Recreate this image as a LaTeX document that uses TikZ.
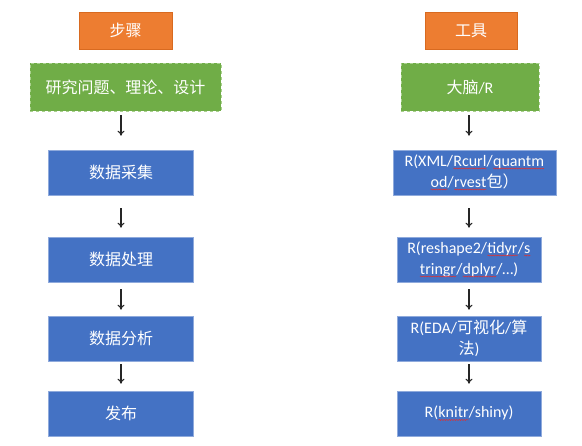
\documentclass[tikz,border=0pt]{standalone}
\usepackage{fontspec}
\setmainfont{Carlito}
\newfontfamily\cjk{Noto Sans CJK SC}
\usetikzlibrary{arrows.meta,decorations.pathmorphing}
\definecolor{ob}{HTML}{ED7D31}
\definecolor{obd}{HTML}{D86A20}
\definecolor{gb}{HTML}{70AD47}
\definecolor{gbd}{HTML}{A9D18E}
\definecolor{bb}{HTML}{4472C4}
\definecolor{bbd}{HTML}{8FAADC}
\definecolor{sq}{HTML}{E03030}
\newcommand\spl[1]{\tikz[baseline=(w.base)]{\node[inner sep=0pt,outer sep=0pt,minimum width=0pt,minimum height=0pt,draw=none,fill=none,text=white](w){#1};\draw[sq,fill=none,line width=0.5pt,decorate,decoration={snake,amplitude=0.5pt,segment length=2.5pt}]([yshift=-2pt]w.base west)--([yshift=-2pt]w.base east);}}
\tikzset{
  box/.style={rectangle,inner sep=2pt,align=center,text=white,font=\fontsize{16}{21}\selectfont},
  headbox/.style={box,fill=ob,draw=obd,line width=0.6pt},
  greenbox/.style={box,fill=gb,draw=gbd,dashed,line width=0.8pt},
  bluebox/.style={box,fill=bb,draw=bbd,line width=0.6pt},
  arr/.style={-{To[length=5pt,width=7pt,line width=1.1pt]},line width=1.3pt,black!85}
}
\begin{document}
\begin{tikzpicture}[x=1pt,y=1pt]
\useasboundingbox (0,0) rectangle (582,-446);
\fill[white] (0,0) rectangle (582,-446);
% left column
\node[headbox,minimum width=93pt,minimum height=37pt] (h1) at (125.5,-30.5) {\cjk 步骤};
\node[greenbox,minimum width=191pt,minimum height=48pt] (g1) at (125.5,-87) {\cjk 研究问题、理论、设计};
\node[bluebox,minimum width=145pt,minimum height=45pt] (b1) at (121,-172.5) {\cjk 数据采集};
\node[bluebox,minimum width=145pt,minimum height=45pt] (b2) at (121,-259.5) {\cjk 数据处理};
\node[bluebox,minimum width=145pt,minimum height=45pt] (b3) at (121,-338.5) {\cjk 数据分析};
\node[bluebox,minimum width=145pt,minimum height=45pt] (b4) at (121,-413.5) {\cjk 发布};
% right column
\node[headbox,minimum width=92pt,minimum height=37pt] (h2) at (471,-30.5) {\cjk 工具};
\node[greenbox,minimum width=138pt,minimum height=48pt] (g2) at (470,-87) {{\cjk 大脑}/R};
\node[bluebox,minimum width=163pt,minimum height=45pt] (r1) at (474.5,-172.5) {R(XML/\spl{Rcurl}/\spl{quantm}\\\spl{od}/\spl{rvest}{\cjk 包）}};
\node[bluebox,minimum width=144pt,minimum height=45pt] (r2) at (469,-259.5) {R(reshape2/\spl{tidyr}/\spl{s}\\\spl{tringr}/\spl{dplyr}/…)};
\node[bluebox,minimum width=144pt,minimum height=45pt] (r3) at (469,-338.5) {R(EDA/{\cjk 可视化}/{\cjk 算}\\{\cjk 法})};
\node[bluebox,minimum width=144pt,minimum height=45pt] (r4) at (469,-413.5) {R(\spl{knitr}/shiny)};
% arrows left
\draw[arr,shorten <=4pt,shorten >=14pt] (g1.south -| b1.north) -- (b1.north);
\draw[arr,shorten <=13pt,shorten >=9pt] (b1) -- (b2);
\draw[arr,shorten <=7pt,shorten >=6pt] (b2) -- (b3);
\draw[arr,shorten <=3pt,shorten >=7pt] (b3) -- (b4);
% arrows right
\draw[arr,shorten <=4pt,shorten >=14pt] (g2.south -| r2.north) -- (r1.north -| r2.north);
\draw[arr,shorten <=13pt,shorten >=9pt] (r1.south -| r2.north) -- (r2.north);
\draw[arr,shorten <=7pt,shorten >=6pt] (r2) -- (r3);
\draw[arr,shorten <=3pt,shorten >=7pt] (r3) -- (r4);
\end{tikzpicture}
\end{document}
